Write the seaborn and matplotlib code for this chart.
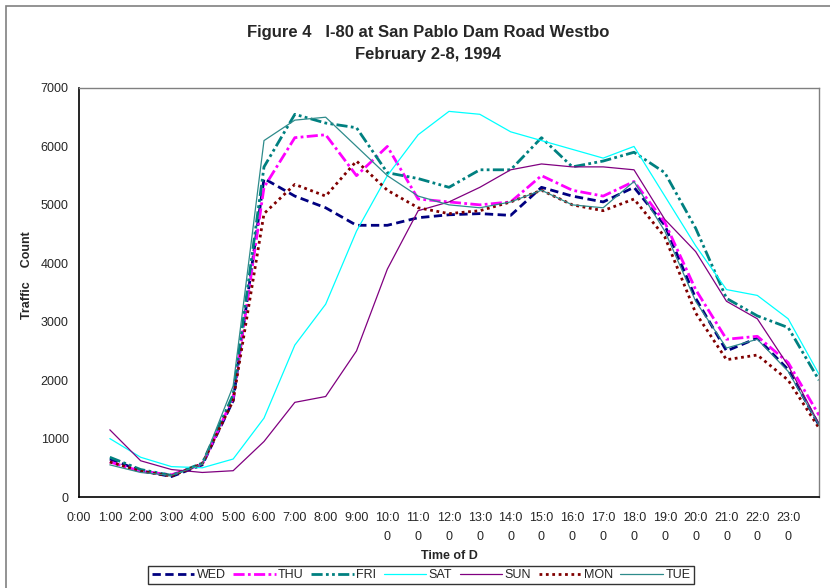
import matplotlib
matplotlib.use("Agg")
import matplotlib.pyplot as plt
import seaborn as sns
import pandas as pd
from matplotlib.patches import Rectangle

# ---- data ----
hours = list(range(1, 25))  # hourly counts plotted at 1:00 ... 24:00
tick_positions = list(range(0, 24))
tick_labels = ["0:00", "1:00", "2:00", "3:00", "4:00", "5:00", "6:00", "7:00", "8:00", "9:00",
               "10:0\n0", "11:0\n0", "12:0\n0", "13:0\n0", "14:0\n0", "15:0\n0", "16:0\n0",
               "17:0\n0", "18:0\n0", "19:0\n0", "20:0\n0", "21:0\n0", "22:0\n0", "23:0\n0"]

wed = [650, 450, 350, 550, 1650, 5450, 5150, 4950, 4650, 4650, 4780, 4830, 4850, 4820, 5300, 5150,
       5050, 5300, 4650, 3400, 2500, 2720, 2180, 1230]
thu = [600, 440, 380, 560, 1700, 5300, 6150, 6200, 5500, 6000, 5100, 5050, 5000, 5050, 5500, 5250,
       5150, 5400, 4700, 3550, 2700, 2750, 2300, 1400]
fri = [680, 470, 370, 580, 1750, 5650, 6550, 6400, 6320, 5550, 5450, 5300, 5600, 5600, 6150, 5650,
       5750, 5900, 5550, 4600, 3400, 3100, 2900, 2000]
sat = [1000, 680, 520, 500, 650, 1350, 2600, 3300, 4550, 5500, 6200, 6600, 6550, 6250, 6100, 5950,
       5800, 6000, 5150, 4300, 3550, 3450, 3050, 2100]
sun = [1150, 620, 470, 420, 450, 950, 1620, 1720, 2500, 3900, 4900, 5050, 5300, 5600, 5700, 5650,
       5650, 5600, 4750, 4200, 3350, 3050, 2250, 1250]
mon = [600, 440, 360, 570, 1650, 4850, 5350, 5150, 5750, 5250, 4950, 4850, 4900, 5050, 5250, 5000,
       4900, 5100, 4450, 3150, 2350, 2430, 2000, 1180]
tue = [550, 420, 370, 560, 1900, 6100, 6450, 6500, 6000, 5500, 5150, 5000, 4950, 5050, 5250, 5000,
       4950, 5400, 4550, 3350, 2550, 2700, 2150, 1230]

days = ["WED", "THU", "FRI", "SAT", "SUN", "MON", "TUE"]
series = [wed, thu, fri, sat, sun, mon, tue]

colors = {"WED": "#000080", "THU": "#FF00FF", "FRI": "#008080", "SAT": "#00FFFF",
          "SUN": "#800080", "MON": "#800000", "TUE": "#2E8B8B"}
widths = {"WED": 2.0, "THU": 2.0, "FRI": 2.0, "SAT": 0.9, "SUN": 0.9, "MON": 2.0, "TUE": 0.9}
styles = {"WED": (0, (3, 1.6)), "THU": (0, (4, 1.2, 1, 1.2)),
          "FRI": (0, (4, 1.2, 1, 1.2, 1, 1.2)), "SAT": "-", "SUN": "-",
          "MON": (0, (1, 1.3)), "TUE": "-"}

sns.set_theme(style="white")
plt.rcParams['font.family'] = ['Liberation Sans', 'DejaVu Sans']

W, H = 830, 588
fig = plt.figure(figsize=(W / 100, H / 100), dpi=100)
ax = fig.add_axes([79 / W, 1 - 497 / H, 740 / W, 409 / H])

for day, vals in zip(days, series):
    df = pd.DataFrame({"hour": hours, "count": vals})
    sns.lineplot(data=df, x="hour", y="count", ax=ax, color=colors[day],
                 linewidth=widths[day], linestyle=styles[day], label=day)

ax.set_xlim(0, 24)
ax.set_ylim(0, 7000)
ax.set_xticks(tick_positions)
ax.set_xticklabels(tick_labels, fontsize=9, linespacing=1.8)
ax.set_yticks(range(0, 7001, 1000))
ax.set_yticklabels([str(v) for v in range(0, 7001, 1000)], fontsize=9)
ax.tick_params(axis="both", direction="inout", length=7, width=1, color="black", pad=4)
ax.tick_params(axis="x", pad=7)
ax.set_xlabel("")
ax.set_ylabel("")
ax.grid(False)
for s in ["left", "bottom"]:
    ax.spines[s].set_color("black")
    ax.spines[s].set_linewidth(1.2)
for s in ["top", "right"]:
    ax.spines[s].set_color("#808080")
    ax.spines[s].set_linewidth(1.0)

fig.text(428 / W, 1 - 32 / H, "Figure 4   I-80 at San Pablo Dam Road Westbo",
         ha="center", va="center", fontsize=12, fontweight="bold")
fig.text(428 / W, 1 - 55 / H, "February 2-8, 1994",
         ha="center", va="center", fontsize=12, fontweight="bold")
fig.text(27 / W, 1 - 275 / H, "Traffic    Count", rotation=90, ha="center", va="center",
         fontsize=9, fontweight="bold")
fig.text(449 / W, 1 - 556 / H, "Time of D", ha="center", va="center",
         fontsize=9, fontweight="bold")

handles, labels = ax.get_legend_handles_labels()
ax.get_legend().remove()
leg = fig.legend(handles, labels, loc="center", bbox_to_anchor=(421 / W, 1 - 575 / H),
                 bbox_transform=fig.transFigure, ncol=7, fontsize=9, frameon=True,
                 handlelength=3.4, handletextpad=0.2, columnspacing=0.6,
                 borderpad=0.25, fancybox=False, borderaxespad=0)
leg.get_frame().set_edgecolor("black")
leg.get_frame().set_linewidth(1.0)

fig.patches.append(Rectangle((6 / W, -0.1), 1.2, (H - 6) / H + 0.1, transform=fig.transFigure,
                             fill=False, edgecolor="#808080", linewidth=1.2))

fig.savefig("out.png", dpi=100)
